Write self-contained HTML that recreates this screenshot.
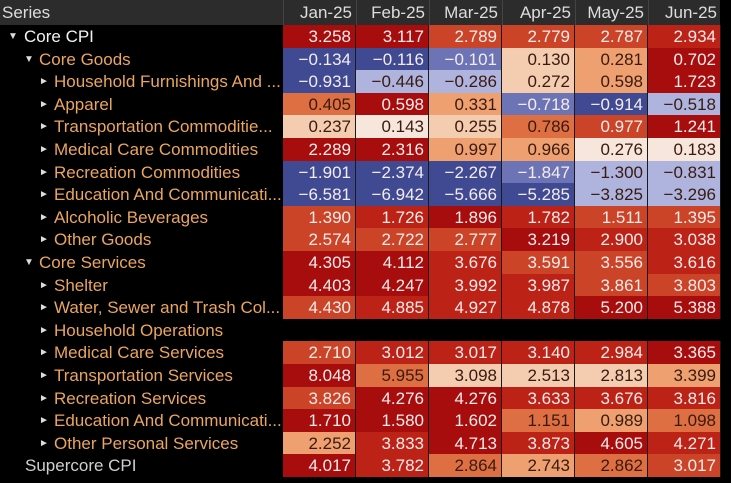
<!DOCTYPE html>
<html><head><meta charset="utf-8">
<style>
html,body{margin:0;padding:0;background:#000;}
#wrap{position:relative;width:731px;height:483px;overflow:hidden;background:#000;font-family:"Liberation Sans",sans-serif;}
.hdr{position:absolute;top:0;height:25px;background:#2c2c2c;color:#ddd;font-size:17px;line-height:25px;box-sizing:border-box;}
.lbl{position:absolute;left:0;width:283px;height:23px;font-size:17px;line-height:23px;white-space:nowrap;overflow:hidden;}
.arr{position:absolute;font-size:10px;color:#ddd;}
.cell{position:absolute;height:23px;font-size:17px;line-height:23px;text-align:right;box-sizing:border-box;padding-right:4px;border-right:1px solid #1a1a1a;}
</style></head><body>
<div id="wrap"></div>
<script>
const months=["Jan-25","Feb-25","Mar-25","Apr-25","May-25","Jun-25"];
const names=["Core CPI","Core Goods","Household Furnishings And ...","Apparel","Transportation Commoditie...","Medical Care Commodities","Recreation Commodities","Education And Communicati...","Alcoholic Beverages","Other Goods","Core Services","Shelter","Water, Sewer and Trash Col...","Household Operations","Medical Care Services","Transportation Services","Recreation Services","Education And Communicati...","Other Personal Services","Supercore CPI"];
const depth=[0,1,2,2,2,2,2,2,2,2,1,2,2,2,2,2,2,2,2,-1];
const values=[
[3.258,3.117,2.789,2.779,2.787,2.934],
[-0.134,-0.116,-0.101,0.130,0.281,0.702],
[-0.931,-0.446,-0.286,0.272,0.598,1.723],
[0.405,0.598,0.331,-0.718,-0.914,-0.518],
[0.237,0.143,0.255,0.786,0.977,1.241],
[2.289,2.316,0.997,0.966,0.276,0.183],
[-1.901,-2.374,-2.267,-1.847,-1.300,-0.831],
[-6.581,-6.942,-5.666,-5.285,-3.825,-3.296],
[1.390,1.726,1.896,1.782,1.511,1.395],
[2.574,2.722,2.777,3.219,2.900,3.038],
[4.305,4.112,3.676,3.591,3.556,3.616],
[4.403,4.247,3.992,3.987,3.861,3.803],
[4.430,4.885,4.927,4.878,5.200,5.388],
null,
[2.710,3.012,3.017,3.140,2.984,3.365],
[8.048,5.955,3.098,2.513,2.813,3.399],
[3.826,4.276,4.276,3.633,3.676,3.816],
[1.710,1.580,1.602,1.151,0.989,1.098],
[2.252,3.833,4.713,3.873,4.605,4.271],
[4.017,3.782,2.864,2.743,2.862,3.017]];
const levels=[
[6,6,4,4,4,5],[-3,-3,-2,1,2,6],[-3,-1,-1,1,2,6],[3,6,2,-2,-3,-1],[1,0,1,3,4,6],[6,6,2,2,0,0],
[-3,-3,-3,-2,-1,-1],[-3,-3,-3,-3,-1,-1],[4,5,6,5,4,4],[4,4,4,6,5,5],[6,6,5,4,4,5],[6,6,5,5,4,4],
[4,5,5,5,6,6],null,[4,5,5,5,5,6],[6,3,1,1,1,2],[4,6,6,5,5,5],[6,6,6,3,2,3],[2,5,6,5,6,5],[6,5,3,2,3,4]];
const pal={"6":"#a80d0d","5":"#bd2217","4":"#cc4428","3":"#de6f42","2":"#eea070","1":"#f4cdb0","0":"#f6e6dc","-1":"#aeb4de","-2":"#6c74b6","-3":"#404a92"};
const W=document.getElementById('wrap');
const colX=[283,356,429,502,575,648],colW=73,rowH=22.6,top0=25;
let h=document.createElement('div');h.className='hdr';h.style.left='0';h.style.width='720px';


W.appendChild(h);
let s=document.createElement('div');s.className='hdr';s.style.left='2px';s.style.width='200px';s.style.background='transparent';s.textContent='Series';


W.appendChild(s);
months.forEach((m,j)=>{
 const d=document.createElement('div');d.className='hdr';d.style.left=colX[j]+'px';d.style.width=colW+'px';d.style.textAlign='right';d.style.paddingRight='4px';d.style.borderLeft='1px solid #444';d.style.background='transparent';d.textContent=m;
 
 
 W.appendChild(d);
});
names.forEach((n,i)=>{
 const y=top0+i*rowH;
 const dp=depth[i];
 const l=document.createElement('div');l.className='lbl';l.style.top=y+'px';
 const tx=dp<0?25:(dp===0?24:dp===1?39:54);
 l.innerHTML='<span style="position:absolute;left:'+tx+'px;color:'+(dp===0?'#f2f2f2':dp<0?'#cfcfcf':'#eba55e')+'">'+n.replace(/&/g,'&amp;')+'</span>';
 if(dp>=0){const a=document.createElement('span');a.className='arr';a.style.left=(dp===0?8:dp===1?24:39)+'px';a.style.top='0px';a.textContent=dp===2?'►':'▼';l.appendChild(a);}
 
 
 W.appendChild(l);
 if(!values[i])return;
 values[i].forEach((v,j)=>{
  const c=document.createElement('div');c.className='cell';
  const lv=levels[i][j];
  c.style.left=colX[j]+'px';c.style.top=y+'px';c.style.width=colW+'px';
  c.style.background=pal[lv];
  c.style.color=(lv>=0&&lv<=3)||lv===-1?'#3a1a10':'#f4ecec';
  c.textContent=v.toFixed(3).replace('-','−');
  
  
  W.appendChild(c);
 });
});
</script>
</body></html>
